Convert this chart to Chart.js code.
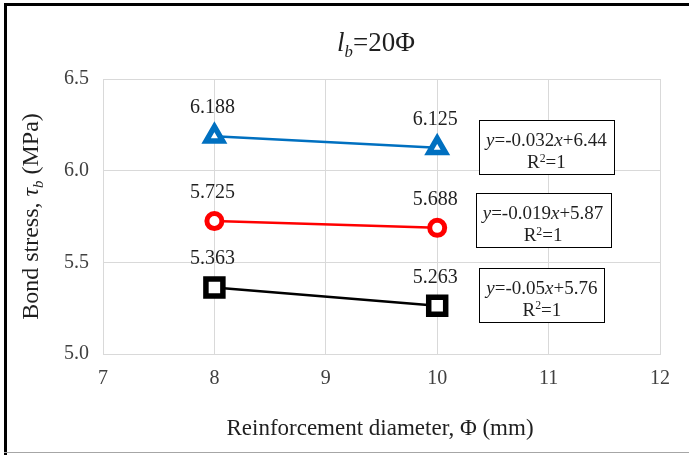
<!DOCTYPE html>
<html>
<head>
<meta charset="utf-8">
<script src="https://cdn.jsdelivr.net/npm/chart.js@4.4.1/dist/chart.umd.min.js"></script>
<style>
html,body{margin:0;padding:0;background:#fff;}
#wrap{width:689px;height:456px;position:relative;}
</style>
</head>
<body>
<div id="wrap"><canvas id="c" width="689" height="456"></canvas></div>
<script>
// ---- data ----
const diameters = [8, 10];
const seriesBlue = [6.188, 6.125];
const seriesRed = [5.725, 5.688];
const seriesBlack = [5.363, 5.263];
const xTicks = [7, 8, 9, 10, 11, 12];
const yTicks = [5.0, 5.5, 6.0, 6.5];
const eqTexts = [
  ["-0.032", "+6.44"],
  ["-0.019", "+5.87"],
  ["-0.05", "+5.76"]
];
const eqAnchorX = [10.98, 10.95, 10.94];
const eqAnchorY = [6.127, 5.729, 5.322];

const SERIF = '"Liberation Serif","Times New Roman",serif';

function drawRich(ctx, segs, cx, baseline, size) {
  ctx.save();
  let total = 0;
  const parts = segs.map(s => {
    const fs = s.sub || s.sup ? size * 0.62 : size;
    const font = (s.italic ? 'italic ' : '') + fs + 'px ' + SERIF;
    ctx.font = font;
    const w = ctx.measureText(s.t).width;
    total += w;
    return {s, font, w, fs};
  });
  let x = cx - total / 2;
  ctx.textBaseline = 'alphabetic';
  ctx.textAlign = 'left';
  for (const p of parts) {
    ctx.font = p.font;
    ctx.fillStyle = p.s.color || '#1f1f1f';
    const dy = p.s.sub ? size * 0.22 : (p.s.sup ? -size * 0.36 : 0);
    ctx.fillText(p.s.t, x, baseline + dy);
    x += p.w;
  }
  ctx.restore();
  return total;
}

function richWidth(ctx, segs, size) {
  let w = 0;
  ctx.save();
  segs.forEach(s => {
    const fs = s.sub || s.sup ? size * 0.62 : size;
    ctx.font = (s.italic ? 'italic ' : '') + fs + 'px ' + SERIF;
    w += ctx.measureText(s.t).width;
  });
  ctx.restore();
  return w;
}

const decor = {
  id: 'decor',
  beforeDraw(chart) {
    const ctx = chart.ctx;
    ctx.save();
    ctx.fillStyle = '#fff';
    ctx.fillRect(0, 0, chart.width, chart.height);
    ctx.restore();
  },
  afterDraw(chart) {
    const ctx = chart.ctx;
    const xs = chart.scales.x, ys = chart.scales.y;
    // outer frame
    ctx.save();
    ctx.fillStyle = '#000';
    ctx.fillRect(4, 3, chart.width - 4, 3);
    ctx.fillRect(4, 3, 3, chart.height - 4);
    ctx.fillStyle = '#a6a6a6';
    ctx.fillRect(4, 452, chart.width - 4, 1);
    ctx.restore();
    // title
    drawRich(ctx, [{t:'l', italic:true},{t:'b', italic:true, sub:true},{t:'=20Φ'}], 376, 51, 27);
    // x axis title
    drawRich(ctx, [{t:'Reinforcement diameter, Φ (mm)'}], 380, 435, 23);
    // y axis title
    ctx.save();
    ctx.translate(38, (ys.top + ys.bottom) / 2);
    ctx.rotate(-Math.PI / 2);
    drawRich(ctx, [{t:'Bond stress, '},{t:'τ', italic:true},{t:'b', italic:true, sub:true},{t:' (MPa)'}], 0, 0, 24);
    ctx.restore();
    // data labels
    ctx.save();
    ctx.font = '20px ' + SERIF;
    ctx.fillStyle = '#1f1f1f';
    ctx.textAlign = 'center';
    ctx.textBaseline = 'alphabetic';
    chart.data.datasets.forEach((ds, di) => {
      const meta = chart.getDatasetMeta(di);
      meta.data.forEach((pt, i) => {
        ctx.fillText(ds.data[i].y.toFixed(3), pt.x - 2, pt.y - 23);
      });
    });
    ctx.restore();
    // equation boxes
    eqTexts.forEach((eq, k) => {
      const cx = xs.getPixelForValue(eqAnchorX[k]);
      const cy = ys.getPixelForValue(eqAnchorY[k]);
      const segs = [{t:'y', italic:true},{t:'=' + eq[0]},{t:'x', italic:true},{t:eq[1]}];
      const w = richWidth(ctx, segs, 19);
      const bw = Math.round(w + 14), bh = 54;
      const bx = Math.round(cx - bw / 2), by = Math.round(cy - bh / 2);
      ctx.save();
      ctx.fillStyle = '#fff';
      ctx.fillRect(bx, by, bw, bh);
      ctx.strokeStyle = '#000';
      ctx.lineWidth = 1;
      ctx.strokeRect(bx + 0.5, by + 0.5, bw, bh);
      ctx.restore();
      drawRich(ctx, segs, cx, cy - 1, 19);
      drawRich(ctx, [{t:'R'},{t:'2', sup:true},{t:'=1'}], cx, cy + 21, 19);
    });
  }
};

function mk(label, vals, color, style, radius, bwid) {
  return {
    label,
    data: diameters.map((d, i) => ({x: d, y: vals[i]})),
    borderColor: color,
    backgroundColor: '#fff',
    borderWidth: 2.5,
    pointStyle: style,
    pointRadius: radius,
    pointHoverRadius: radius,
    pointBorderWidth: bwid,
    pointBorderColor: color,
    pointBackgroundColor: '#fff',
    showLine: true,
    tension: 0
  };
}

new Chart(document.getElementById('c'), {
  type: 'scatter',
  data: {
    datasets: [
      mk('blue', seriesBlue, '#0070C0', 'triangle', 9.5, 5.5),
      mk('red', seriesRed, '#FF0000', 'circle', 7.5, 5),
      mk('black', seriesBlack, '#000000', 'rect', 12, 5.5)
    ]
  },
  options: {
    responsive: false,
    animation: false,
    devicePixelRatio: 1,
    layout: {padding: {top: 79, right: 29, left: 0, bottom: 0}},
    plugins: {legend: {display: false}, tooltip: {enabled: false}, title: {display: false}},
    scales: {
      x: {
        type: 'linear', min: 7, max: 12,
        afterBuildTicks: s => { s.ticks = xTicks.map(v => ({value: v})); },
        afterFit: s => { s.height = 102; },
        grid: {color: '#d9d9d9', drawTicks: false, lineWidth: 1},
        border: {color: '#d9d9d9'},
        ticks: {padding: 13, color: '#404040', font: {family: SERIF, size: 20}, callback: v => String(v)}
      },
      y: {
        type: 'linear', min: 5.0, max: 6.5,
        afterBuildTicks: s => { s.ticks = yTicks.map(v => ({value: v})); },
        afterFit: s => { s.width = 103; },
        grid: {color: '#d9d9d9', drawTicks: false, lineWidth: 1},
        border: {color: '#d9d9d9'},
        ticks: {padding: 14, color: '#404040', font: {family: SERIF, size: 20}, callback: v => v.toFixed(1)}
      }
    }
  },
  plugins: [decor]
});
</script>
</body>
</html>
